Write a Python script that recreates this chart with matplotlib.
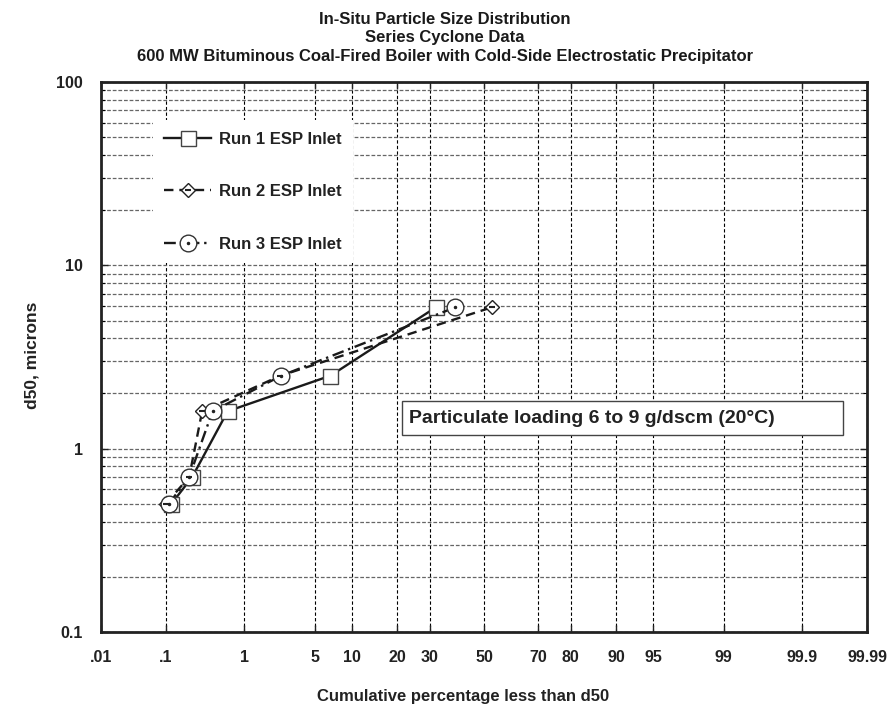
import numpy as np
import matplotlib
matplotlib.use("Agg")
import matplotlib.pyplot as plt
from matplotlib.legend_handler import HandlerTuple
from matplotlib.patches import Rectangle
from statistics import NormalDist

plt.rcParams['font.family'] = ['Liberation Sans', 'DejaVu Sans']
plt.rcParams['font.weight'] = 'bold'

# ---------------- data ----------------
d50_microns = [0.5, 0.7, 1.6, 2.5, 5.9]
run1_pct = [0.12, 0.23, 0.64, 6.8, 32.0]
run2_pct = [0.10, 0.21, 0.31, 2.4, 53.0]
run3_pct = [0.11, 0.21, 0.42, 2.45, 39.0]
series_labels = ["Run 1 ESP Inlet", "Run 2 ESP Inlet", "Run 3 ESP Inlet"]

x_ticks = [0.01, 0.1, 1, 5, 10, 20, 30, 50, 70, 80, 90, 95, 99, 99.9, 99.99]
x_tick_labels = [".01", ".1", "1", "5", "10", "20", "30", "50", "70", "80",
                 "90", "95", "99", "99.9", "99.99"]
y_ticks = [0.1, 1, 10, 100]
y_tick_labels = ["0.1", "1", "10", "100"]

title = ("In-Situ Particle Size Distribution\nSeries Cyclone Data\n"
         "600 MW Bituminous Coal-Fired Boiler with Cold-Side Electrostatic Precipitator")
note = "Particulate loading 6 to 9 g/dscm (20\u00b0C)"

# ---------------- probability scale ----------------
_nd = NormalDist()
_ppf = np.vectorize(lambda p: _nd.inv_cdf(p), otypes=[float])
_cdf = np.vectorize(lambda z: _nd.cdf(z), otypes=[float])


def fwd(p):
    p = np.clip(np.asarray(p, dtype=float) / 100.0, 1e-9, 1 - 1e-9)
    return _ppf(p)


def inv(z):
    return _cdf(np.asarray(z, dtype=float)) * 100.0


fig = plt.figure(figsize=(8.9, 7.11), dpi=100)
ax = fig.add_axes([101 / 890, 1 - 632 / 711, 766 / 890, 550 / 711])
ax.set_xscale('function', functions=(fwd, inv))
ax.set_yscale('log')
ax.set_xlim(0.01, 99.99)
ax.set_ylim(0.1, 100)

# grid
ax.set_xticks(x_ticks)
ax.set_xticklabels(x_tick_labels)
ax.xaxis.set_minor_locator(matplotlib.ticker.NullLocator())
ax.set_yticks(y_ticks)
ax.set_yticklabels(y_tick_labels)
ax.yaxis.set_minor_locator(matplotlib.ticker.LogLocator(base=10, subs=np.arange(2, 10)))
ax.yaxis.set_minor_formatter(matplotlib.ticker.NullFormatter())

ax.grid(True, which='major', axis='x', color='black', lw=0.8, ls=(0, (3, 2)))
ax.grid(True, which='both', axis='y', color='#666666', lw=0.9, ls=(0, (3, 1.5)))
ax.set_axisbelow(True)

ax.tick_params(axis='both', which='major', direction='in', length=5, width=1,
               top=True, right=True, labelsize=11.5, pad=13, colors='#222222')
ax.tick_params(axis='y', which='minor', direction='in', length=3, width=0.8, right=True)
for lab in ax.get_xticklabels() + ax.get_yticklabels():
    lab.set_fontweight('bold')
for sp in ax.spines.values():
    sp.set_linewidth(2.0)
    sp.set_color('#222222')

# ---------------- series ----------------
edge = '#444444'
l1, = ax.plot(run1_pct, d50_microns, color='#1a1a1a', lw=1.7, ls='-', marker='s',
              markersize=10.8, markerfacecolor='white', markeredgecolor=edge,
              markeredgewidth=1.0, zorder=3)
l2, = ax.plot(run2_pct, d50_microns, color='#1a1a1a', lw=1.7, ls=(0, (4, 2.5)), marker='D',
              markersize=7.5, markerfacecolor='white', markeredgecolor='#222222',
              markeredgewidth=1.0, zorder=4)
l2i, = ax.plot(run2_pct, d50_microns, ls='none', marker='_', markersize=5,
               markeredgecolor='#222222', markeredgewidth=1.5, zorder=5)
l3, = ax.plot(run3_pct, d50_microns, color='#1a1a1a', lw=1.7, ls=(0, (5, 2, 1, 2)), marker='o',
              markersize=12, markerfacecolor='white', markeredgecolor='#333333',
              markeredgewidth=1.0, zorder=4)
l3i, = ax.plot(run3_pct, d50_microns, ls='none', marker='.', markersize=3,
               color='#222222', zorder=5)

leg = ax.legend([l1, (l2, l2i), (l3, l3i)], series_labels,
                handler_map={tuple: HandlerTuple(ndivide=1, pad=0)},
                loc='upper left', bbox_to_anchor=(0.0566, 0.946),
                frameon=True, facecolor='white', edgecolor='none', framealpha=1.0,
                fancybox=False, borderpad=0.7, labelspacing=2.25, handlelength=2.8,
                handletextpad=0.45, prop={'weight': 'bold', 'size': 12})
for t in leg.get_texts():
    t.set_color('#222222')

# note box
ax.add_patch(Rectangle((0.3925, 0.358), 0.576, 0.062, transform=ax.transAxes,
                       facecolor='white', edgecolor='#444444', lw=1.0, zorder=6))
ax.text(0.4015, 0.389, note, transform=ax.transAxes, ha='left', va='center',
        fontsize=14, fontweight='bold', color='#222222', zorder=7)

# titles and labels
fig.text(0.5, 1 - 64 / 711, title, ha='center', va='bottom', fontsize=12, fontweight='bold',
         linespacing=1.3, color='#1a1a1a')
fig.text(0.036, 0.5, "d50, microns", rotation=90, ha='center', va='center',
         fontsize=12.5, fontweight='bold', color='#222222')
fig.text(0.52, 0.02, "Cumulative percentage less than d50", ha='center', va='center',
         fontsize=12, fontweight='bold', color='#222222')

fig.savefig("out.png", dpi=100, facecolor='white')
